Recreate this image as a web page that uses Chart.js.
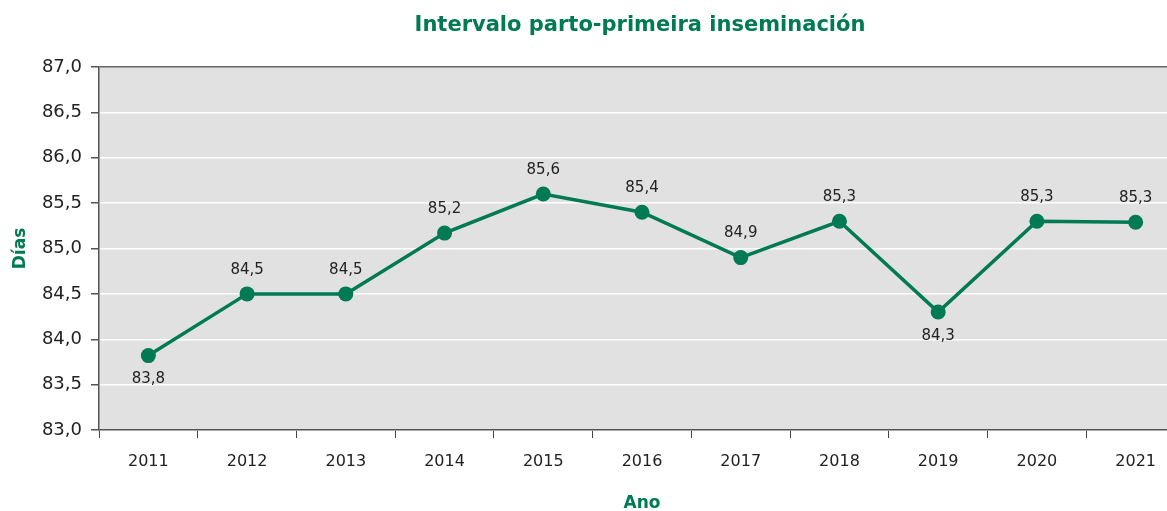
<!DOCTYPE html>
<html>
<head>
<meta charset="utf-8">
<script src="https://cdn.jsdelivr.net/npm/chart.js@4.4.0/dist/chart.umd.min.js"></script>
<style>
  html, body { margin: 0; padding: 0; background: #fff; overflow: hidden; }
  #wrap { width: 1167px; height: 511px; overflow: hidden; }
  canvas { display: block; }
</style>
</head>
<body>
<!-- the plot runs past the right edge of the picture, so the canvas is a bit wider and clipped -->
<div id="wrap"><canvas id="chart" width="1186" height="511"></canvas></div>
<script>
// data
const years = ['2011', '2012', '2013', '2014', '2015', '2016', '2017', '2018', '2019', '2020', '2021'];
const dias = [83.82, 84.5, 84.5, 85.17, 85.6, 85.4, 84.9, 85.3, 84.3, 85.3, 85.29];
// labels shown below the point instead of above
const labelsBelow = ['2011', '2019'];

const green = '#007a53';
const fontFamily = '"DejaVu Sans", sans-serif';

// grey plot background
const plotBg = {
  id: 'plotBg',
  beforeDraw(chart) {
    const a = chart.chartArea;
    const ctx = chart.ctx;
    ctx.save();
    ctx.fillStyle = '#e1e1e1';
    ctx.fillRect(a.left, a.top, a.right - a.left, a.bottom - a.top);
    ctx.restore();
  }
};

// title + value labels on the points
const extras = {
  id: 'extras',
  afterDraw(chart) {
    const ctx = chart.ctx;
    ctx.save();
    ctx.fillStyle = green;
    ctx.font = 'bold 21px ' + fontFamily;
    ctx.textAlign = 'center';
    ctx.textBaseline = 'middle';
    ctx.fillText('Intervalo parto-primeira inseminación', 640, 26);

    const meta = chart.getDatasetMeta(0);
    ctx.fillStyle = '#222';
    ctx.font = '15px ' + fontFamily;
    meta.data.forEach((pt, i) => {
      const txt = dias[i].toFixed(1).replace('.', ',');
      const below = labelsBelow.includes(years[i]);
      ctx.fillText(txt, pt.x, below ? pt.y + 24 : pt.y - 24);
    });
    ctx.restore();
  }
};

new Chart(document.getElementById('chart'), {
  type: 'line',
  data: {
    labels: years,
    datasets: [{
      label: 'Días',
      data: dias,
      borderColor: green,
      backgroundColor: green,
      borderWidth: 3.5,
      pointRadius: 7.5,
      pointHoverRadius: 7.5,
      pointBackgroundColor: green,
      pointBorderWidth: 0,
      tension: 0
    }]
  },
  options: {
    responsive: false,
    animation: false,
    layout: { autoPadding: false, padding: { top: 67, right: 1, left: 0, bottom: 0 } },
    plugins: {
      legend: { display: false },
      tooltip: { enabled: false },
      title: { display: false }
    },
    scales: {
      x: {
        offset: true,
        grid: {
          offset: true,
          drawOnChartArea: false,
          drawTicks: true,
          tickLength: 8,
          tickColor: (c) => c.tick ? '#444' : 'rgba(0,0,0,0)'
        },
        border: { color: '#555', width: 1.5 },
        ticks: {
          color: '#222',
          font: { family: fontFamily, size: 16 },
          padding: 14
        },
        title: {
          display: true,
          text: 'Ano',
          color: green,
          font: { family: fontFamily, size: 17, weight: 'bold' },
          padding: { top: 18, bottom: -3 }
        },
        afterFit(scale) {
          scale.height = 81;
          scale.paddingLeft = 0;
          scale.paddingRight = 0;
        }
      },
      y: {
        min: 83,
        max: 87,
        grid: {
          color: (c) => c.tick && c.tick.value === 87 ? '#666' : '#ffffff',
          lineWidth: 1.5,
          tickLength: 8,
          tickColor: '#555'
        },
        border: { color: '#555', width: 1.5 },
        ticks: {
          stepSize: 0.5,
          color: '#222',
          font: { family: fontFamily, size: 18 },
          padding: 9,
          callback: (v) => v.toFixed(1).replace('.', ',')
        },
        title: {
          display: true,
          text: 'Días',
          color: green,
          font: { family: fontFamily, size: 17, weight: 'bold' },
          padding: { top: 10, bottom: 0 }
        },
        afterFit(scale) { scale.width = 99; }
      }
    }
  },
  plugins: [plotBg, extras]
});
</script>
</body>
</html>
